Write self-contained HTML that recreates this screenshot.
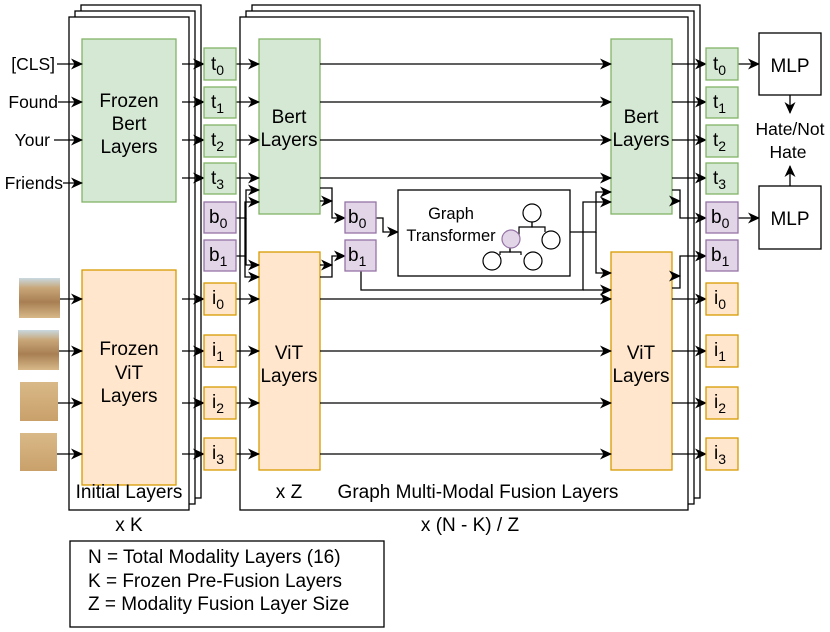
<!DOCTYPE html>
<html><head><meta charset="utf-8"><style>
body{margin:0;background:#fff}
svg{display:block;font-family:"Liberation Sans",Arial,sans-serif}
text{fill:#000}
</style></head><body>
<svg width="830" height="632" viewBox="0 0 830 632" xmlns="http://www.w3.org/2000/svg">
<defs>
<marker id="a" markerWidth="12" markerHeight="12" refX="11" refY="6" orient="auto" markerUnits="userSpaceOnUse">
<path d="M0,0.5 L12,6 L0,11.5 L3.5,6 z" fill="#000"/></marker>
<linearGradient id="sand" x1="0" y1="0" x2="0" y2="1">
<stop offset="0" stop-color="#c9d9e0"/><stop offset="0.25" stop-color="#c8a678"/><stop offset="0.6" stop-color="#a87f52"/><stop offset="1" stop-color="#d8b888"/></linearGradient>
<linearGradient id="sand2" x1="0" y1="0" x2="0" y2="1">
<stop offset="0" stop-color="#d9b988"/><stop offset="1" stop-color="#c9a06a"/></linearGradient>
</defs>
<g fill="#fff" stroke="#000" stroke-width="1.3">
<rect x="81" y="5" width="120" height="493"/>
<rect x="75" y="11" width="120" height="493"/>
<rect x="69" y="17" width="120" height="493"/>
<rect x="252" y="5" width="448" height="493"/>
<rect x="246" y="11" width="448" height="493"/>
<rect x="240" y="17" width="448" height="493"/>
</g>
<g stroke-width="1.3">
<rect x="82" y="39" width="94" height="163" fill="#d5e8d4" stroke="#82b366"/>
<rect x="82" y="270" width="94" height="215" fill="#ffe6cc" stroke="#d79b00"/>
<rect x="259" y="39" width="61" height="175" fill="#d5e8d4" stroke="#82b366"/>
<rect x="259" y="252" width="61" height="218" fill="#ffe6cc" stroke="#d79b00"/>
<rect x="611" y="39" width="61" height="175" fill="#d5e8d4" stroke="#82b366"/>
<rect x="611" y="252" width="61" height="218" fill="#ffe6cc" stroke="#d79b00"/>
</g>
<g font-size="19" text-anchor="middle">
<text x="129" y="107">Frozen</text><text x="129" y="130">Bert</text><text x="129" y="153">Layers</text>
<text x="129" y="355">Frozen</text><text x="129" y="379">ViT</text><text x="129" y="402">Layers</text>
<text x="289" y="123">Bert</text><text x="289" y="146">Layers</text>
<text x="289" y="359">ViT</text><text x="289" y="382">Layers</text>
<text x="641" y="123">Bert</text><text x="641" y="146">Layers</text>
<text x="641" y="359">ViT</text><text x="641" y="382">Layers</text>
<text x="129" y="498">Initial Layers</text>
<text x="289" y="498">x Z</text>
<text x="478" y="498">Graph Multi-Modal Fusion Layers</text>
<text x="129" y="531">x K</text>
<text x="470" y="531">x (N - K) / Z</text>
</g>
<g font-size="17.5" text-anchor="end">
<text x="55" y="70">[CLS]</text><text x="58" y="108">Found</text><text x="50" y="146">Your</text><text x="63" y="189">Friends</text>
</g>
<rect x="19" y="278" width="41" height="40" fill="url(#sand)"/>
<rect x="18" y="330" width="41" height="40" fill="url(#sand)"/>
<rect x="20" y="382" width="38" height="39" fill="url(#sand2)"/>
<rect x="20" y="433" width="37" height="38" fill="url(#sand2)"/>
<g stroke="#000" stroke-width="1.3" fill="none" marker-end="url(#a)">
<line x1="57" y1="64" x2="82" y2="64"/><line x1="58" y1="102" x2="82" y2="102"/><line x1="54" y1="140" x2="82" y2="140"/><line x1="63" y1="183" x2="82" y2="183"/>
<line x1="60" y1="299" x2="82" y2="299"/><line x1="59" y1="351" x2="82" y2="351"/><line x1="58" y1="403" x2="82" y2="403"/><line x1="57" y1="454" x2="82" y2="454"/>
<line x1="182" y1="64" x2="204" y2="64"/><line x1="182" y1="102" x2="204" y2="102"/><line x1="182" y1="140" x2="204" y2="140"/><line x1="182" y1="178" x2="204" y2="178"/>
<line x1="182" y1="299" x2="204" y2="299"/><line x1="182" y1="351" x2="204" y2="351"/><line x1="182" y1="403" x2="204" y2="403"/><line x1="182" y1="454" x2="204" y2="454"/>
<line x1="236" y1="64" x2="259" y2="64"/><line x1="236" y1="102" x2="259" y2="102"/><line x1="236" y1="140" x2="259" y2="140"/><line x1="236" y1="178" x2="259" y2="178"/>
<line x1="236" y1="299" x2="259" y2="299"/><line x1="236" y1="351" x2="259" y2="351"/><line x1="236" y1="403" x2="259" y2="403"/><line x1="236" y1="454" x2="259" y2="454"/>
<polyline points="236,218 246,218 246,190 259,190"/>
<polyline points="236,256 245,256 245,202 259,202"/>
<polyline points="246,218 246,265 259,265"/>
<polyline points="245,256 245,277 259,277"/>
<line x1="320" y1="64" x2="611" y2="64"/><line x1="320" y1="102" x2="611" y2="102"/><line x1="320" y1="140" x2="611" y2="140"/><line x1="320" y1="178" x2="611" y2="178"/>
<line x1="320" y1="299" x2="611" y2="299"/><line x1="320" y1="351" x2="611" y2="351"/><line x1="320" y1="403" x2="611" y2="403"/><line x1="320" y1="454" x2="611" y2="454"/>
<polyline points="320,188 332,188 332,218 345,218"/>
<polyline points="320,201 332,201"/>
<polyline points="320,277 332,277 332,256 345,256"/>
<polyline points="320,265 332,265"/>
<polyline points="376,218 383,218 383,232 398,232"/>
<polyline points="570,232 596,232 596,192 611,192"/>
<polyline points="596,232 596,273 611,273"/>
<polyline points="361,271 361,290 583,290 583,202 611,202"/>
<polyline points="583,290 611,290"/>
<line x1="672" y1="64" x2="706" y2="64"/><line x1="672" y1="102" x2="706" y2="102"/><line x1="672" y1="140" x2="706" y2="140"/><line x1="672" y1="178" x2="706" y2="178"/>
<line x1="672" y1="299" x2="706" y2="299"/><line x1="672" y1="351" x2="706" y2="351"/><line x1="672" y1="403" x2="706" y2="403"/><line x1="672" y1="454" x2="706" y2="454"/>
<polyline points="672,190 680,190 680,218 706,218"/>
<polyline points="672,201 680,201"/>
<polyline points="672,288 680,288 680,256 706,256"/>
<polyline points="672,276 680,276"/>
<line x1="738" y1="64" x2="759" y2="64"/>
<line x1="738" y1="218" x2="759" y2="218"/>
<line x1="790" y1="95" x2="790" y2="113"/>
<line x1="790" y1="186" x2="790" y2="166"/>
</g>
<g stroke-width="1.3">
<g fill="#d5e8d4" stroke="#82b366">
<rect x="204" y="48" width="32" height="32"/><rect x="204" y="87" width="32" height="31"/><rect x="204" y="125" width="32" height="32"/><rect x="204" y="163" width="32" height="31"/>
<rect x="706" y="48" width="32" height="32"/><rect x="706" y="87" width="32" height="31"/><rect x="706" y="125" width="32" height="32"/><rect x="706" y="163" width="32" height="31"/>
</g>
<g fill="#e1d5e7" stroke="#9673a6">
<rect x="204" y="202" width="32" height="31"/><rect x="204" y="240" width="32" height="31"/>
<rect x="345" y="202" width="31" height="31"/><rect x="345" y="240" width="31" height="31"/>
<rect x="706" y="202" width="32" height="31"/><rect x="706" y="240" width="32" height="31"/>
</g>
<g fill="#ffe6cc" stroke="#d79b00">
<rect x="204" y="283" width="32" height="32"/><rect x="204" y="335" width="32" height="32"/><rect x="204" y="387" width="32" height="32"/><rect x="204" y="438" width="32" height="32"/>
<rect x="706" y="283" width="32" height="32"/><rect x="706" y="335" width="32" height="32"/><rect x="706" y="387" width="32" height="32"/><rect x="706" y="438" width="32" height="32"/>
</g>
</g>
<g font-size="19">
<text x="211" y="70">t<tspan font-size="14" dy="5">0</tspan></text>
<text x="211" y="108">t<tspan font-size="14" dy="5">1</tspan></text>
<text x="211" y="146">t<tspan font-size="14" dy="5">2</tspan></text>
<text x="211" y="184">t<tspan font-size="14" dy="5">3</tspan></text>
<text x="209" y="223">b<tspan font-size="14" dy="5">0</tspan></text>
<text x="209" y="261">b<tspan font-size="14" dy="5">1</tspan></text>
<text x="212" y="304">i<tspan font-size="14" dy="5">0</tspan></text>
<text x="212" y="356">i<tspan font-size="14" dy="5">1</tspan></text>
<text x="212" y="408">i<tspan font-size="14" dy="5">2</tspan></text>
<text x="212" y="459">i<tspan font-size="14" dy="5">3</tspan></text>
<text x="348" y="223">b<tspan font-size="14" dy="5">0</tspan></text>
<text x="348" y="261">b<tspan font-size="14" dy="5">1</tspan></text>
<text x="713" y="70">t<tspan font-size="14" dy="5">0</tspan></text>
<text x="713" y="108">t<tspan font-size="14" dy="5">1</tspan></text>
<text x="713" y="146">t<tspan font-size="14" dy="5">2</tspan></text>
<text x="713" y="184">t<tspan font-size="14" dy="5">3</tspan></text>
<text x="711" y="223">b<tspan font-size="14" dy="5">0</tspan></text>
<text x="711" y="261">b<tspan font-size="14" dy="5">1</tspan></text>
<text x="714" y="304">i<tspan font-size="14" dy="5">0</tspan></text>
<text x="714" y="356">i<tspan font-size="14" dy="5">1</tspan></text>
<text x="714" y="408">i<tspan font-size="14" dy="5">2</tspan></text>
<text x="714" y="459">i<tspan font-size="14" dy="5">3</tspan></text>
</g>
<rect x="398" y="190" width="172" height="86" fill="#fff" stroke="#000" stroke-width="1.3"/>
<g font-size="16.5" text-anchor="middle"><text x="451" y="219">Graph</text><text x="451" y="241">Transformer</text></g>
<g stroke="#000" stroke-width="1.2" fill="none">
<polyline points="519,239 519,227 532,227 532,222"/>
<polyline points="532,222 532,227 545,227 545,232"/>
<polyline points="510,248 510,252 500,252 500,255"/>
<polyline points="510,248 510,252 521,252 521,255"/>
</g>
<g stroke="#000" stroke-width="1.2" fill="#fff">
<circle cx="532" cy="213" r="9"/><circle cx="551" cy="240" r="9"/><circle cx="492" cy="261" r="9"/><circle cx="533" cy="261" r="9"/>
</g>
<circle cx="511" cy="239" r="9" fill="#e1d5e7" stroke="#9673a6" stroke-width="1.2"/>
<g fill="#fff" stroke="#000" stroke-width="1.3">
<rect x="759" y="33" width="62" height="62"/><rect x="759" y="186" width="62" height="63"/>
</g>
<g font-size="19" text-anchor="middle">
<text x="790" y="72">MLP</text><text x="790" y="225">MLP</text>
</g>
<g font-size="17.5" text-anchor="middle">
<text x="790" y="135">Hate/Not</text><text x="788" y="158">Hate</text>
</g>
<rect x="70" y="541" width="314" height="86" fill="#fff" stroke="#000" stroke-width="1.3"/>
<g font-size="19">
<text x="88" y="563">N = Total Modality Layers (16)</text>
<text x="88" y="587">K = Frozen Pre-Fusion Layers</text>
<text x="88" y="610">Z = Modality Fusion Layer Size</text>
</g>
</svg>
</body></html>
